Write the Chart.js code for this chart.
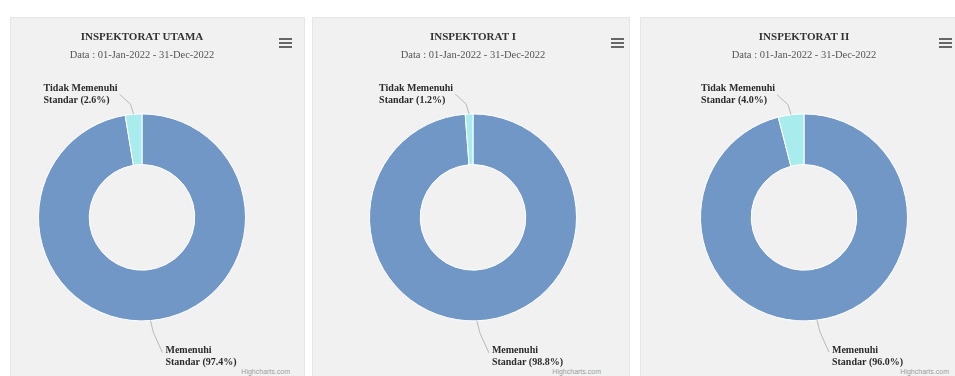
<!DOCTYPE html>
<html>
<head>
<meta charset="utf-8">
<script src="https://cdn.jsdelivr.net/npm/chart.js@4.4.0/dist/chart.umd.min.js"></script>
<style>
  body { margin: 0; background: #ffffff; width: 955px; height: 376px; overflow: hidden; position: relative; font-family: "Liberation Serif", serif; }
  .panel { position: absolute; top: 17px; height: 362px; background: #f1f1f1; border: 1px solid #e6e6e6; box-sizing: border-box; }
  .menu { position: absolute; top: 20px; width: 13px; }
  .menu i { display: block; height: 2px; background: #666; margin-bottom: 2px; }
  .credit { position: absolute; bottom: 3px; font: 7px "Liberation Sans", sans-serif; color: #a0a0a0; }
  canvas { position: absolute; top: 17px; }
</style>
</head>
<body>
<div class="panel" style="left:10px;width:295px"><div class="menu" style="left:268px"><i></i><i></i><i></i></div><div class="credit" style="right:14px">Highcharts.com</div></div>
<div class="panel" style="left:312px;width:318px"><div class="menu" style="left:298px"><i></i><i></i><i></i></div><div class="credit" style="right:28px">Highcharts.com</div></div>
<div class="panel" style="left:640px;width:320px"><div class="menu" style="left:298px"><i></i><i></i><i></i></div><div class="credit" style="right:10px">Highcharts.com</div></div>

<canvas id="c1" width="260" height="359" style="left:12px"></canvas>
<canvas id="c2" width="260" height="359" style="left:343px"></canvas>
<canvas id="c3" width="260" height="359" style="left:674px"></canvas>

<script>
// data
const categories = ['Memenuhi Standar', 'Tidak Memenuhi Standar'];
const titles = ['INSPEKTORAT UTAMA', 'INSPEKTORAT I', 'INSPEKTORAT II'];
const period = 'Data : 01-Jan-2022 - 31-Dec-2022';
const utamaValues = [97.4, 2.6];
const inspektorat1Values = [98.8, 1.2];
const inspektorat2Values = [96.0, 4.0];
const labelLines = [['Memenuhi', 'Standar'], ['Tidak Memenuhi', 'Standar']];
const colors = ['#7097c5', '#a9ecee'];

// draws the highcharts-like labels with connector lines
const pieLabels = {
  id: 'pieLabels',
  afterDatasetsDraw(chart) {
    const ctx = chart.ctx;
    const meta = chart.getDatasetMeta(0);
    const values = chart.data.datasets[0].data;
    meta.data.forEach((arc, i) => {
      const mid = (arc.startAngle + arc.endAngle) / 2;
      const R = arc.outerRadius;
      const px = arc.x + Math.cos(mid) * R;
      const py = arc.y + Math.sin(mid) * R;
      const top = Math.sin(mid) < 0;
      const lines = [labelLines[i][0], labelLines[i][1] + ' (' + values[i].toFixed(1) + '%)'];
      ctx.save();
      ctx.font = 'bold 10px "Liberation Serif"';
      ctx.fillStyle = '#2b2b2b';
      ctx.textBaseline = 'middle';
      ctx.textAlign = 'left';
      ctx.strokeStyle = '#b8b8b8';
      ctx.lineWidth = 1;
      const w = Math.max(ctx.measureText(lines[0]).width, ctx.measureText(lines[1]).width);
      ctx.beginPath();
      let lx, ly;
      if (top) {
        lx = px - 16; ly = py - 20;
        ctx.moveTo(px, py);
        ctx.lineTo(px - 3, py - 10);
        ctx.lineTo(lx + 2, ly);
        ctx.stroke();
        ctx.fillText(lines[0], lx - w, ly - 6);
        ctx.fillText(lines[1], lx - w, ly + 6);
      } else {
        lx = px + 15; ly = py + 36;
        ctx.moveTo(px, py);
        ctx.lineTo(px + 3, py + 12);
        ctx.lineTo(lx - 3, ly - 4);
        ctx.stroke();
        ctx.fillText(lines[0], lx, ly - 6);
        ctx.fillText(lines[1], lx, ly + 6);
      }
      ctx.restore();
    });
  }
};

function makeChart(id, title, values) {
  new Chart(document.getElementById(id), {
    type: 'doughnut',
    data: {
      labels: categories,
      datasets: [{
        data: values,
        backgroundColor: colors,
        borderColor: '#ffffff',
        borderWidth: 1,
        hoverOffset: 0
      }]
    },
    options: {
      responsive: false,
      animation: false,
      cutout: '51%',
      layout: { padding: { left: 26, right: 26, top: 2.5, bottom: 2.5 } },
      plugins: {
        legend: { display: false },
        tooltip: { enabled: false },
        title: {
          display: true,
          text: title,
          color: '#333333',
          font: { size: 11, weight: 'bold', family: 'Liberation Serif' },
          padding: { top: 11, bottom: 2 }
        },
        subtitle: {
          display: true,
          text: period,
          color: '#555555',
          font: { size: 10.5, family: 'Liberation Serif' },
          padding: { top: 3, bottom: 0 }
        }
      }
    },
    plugins: [pieLabels]
  });
}

makeChart('c1', titles[0], utamaValues);
makeChart('c2', titles[1], inspektorat1Values);
makeChart('c3', titles[2], inspektorat2Values);
</script>
</body>
</html>
